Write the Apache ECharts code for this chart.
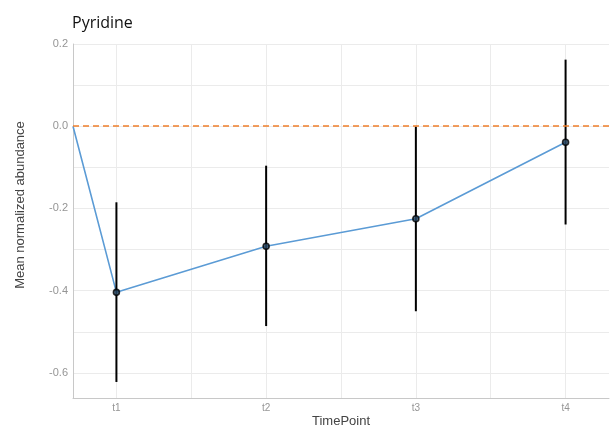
<!DOCTYPE html>
<html>
<head>
<meta charset="utf-8">
<script src="https://cdn.jsdelivr.net/npm/echarts@6/dist/echarts.min.js"></script>
<style>
  html, body { margin: 0; padding: 0; background: #fff; }
  #chart { width: 613px; height: 427px; }
</style>
</head>
<body>
<div id="chart"></div>
<script>
// Time points and summary statistics
const timeLabels = ['t1', 't2', 't3', 't4'];
const timeIndex = [1, 2, 3, 4];
const meanValues = [-0.404, -0.292, -0.225, -0.039];
const upperValues = [-0.185, -0.096, -0.001, 0.162];
const lowerValues = [-0.622, -0.486, -0.450, -0.239];
const baselineValue = 0;

// Axis ranges and tick positions
const xMin = 0.71, xMax = 4.29;
const yMin = -0.661, yMax = 0.2;
const yLabelTicks = [-0.6, -0.4, -0.2, 0, 0.2];
const yGridTicks = [-0.6, -0.5, -0.4, -0.3, -0.2, -0.1, 0, 0.1, 0.2];
const xGridTicks = [1, 1.5, 2, 2.5, 3, 3.5, 4];

const chart = echarts.init(document.getElementById('chart'));

// Mean trajectory starts from the baseline at the left edge of the panel
const lineData = [[xMin, baselineValue]].concat(timeIndex.map((x, i) => [x, meanValues[i]]));
const pointData = timeIndex.map((x, i) => [x, meanValues[i]]);
const barData = timeIndex.map((x, i) => [x, lowerValues[i], upperValues[i]]);

const gridColor = '#ebebeb';
const labelColor = '#959595';
const nameColor = '#444';

chart.setOption({
  animation: false,
  backgroundColor: '#fff',
  title: {
    text: 'Pyridine',
    left: 67,
    top: 10,
    textStyle: { fontFamily: 'Open Sans', fontSize: 16, fontWeight: 'normal', color: '#111' }
  },
  grid: { left: 73, right: 4, top: 44, bottom: 29, outerBoundsMode: 'none', containLabel: false },
  xAxis: {
    type: 'value',
    min: xMin,
    max: xMax,
    name: 'TimePoint',
    nameLocation: 'middle',
    nameGap: 17,
    nameMoveOverlap: false,
    nameTextStyle: { fontFamily: 'Liberation Sans', fontSize: 13, color: nameColor },
    axisLine: { show: true, onZero: false, lineStyle: { color: '#c8c8c8', width: 1 } },
    axisTick: { show: false, customValues: xGridTicks },
    axisLabel: {
      customValues: timeIndex,
      formatter: v => timeLabels[timeIndex.indexOf(Math.round(v))] || '',
      color: labelColor, fontFamily: 'Liberation Sans', fontSize: 10, margin: 5
    },
    splitLine: { show: true, lineStyle: { color: gridColor, width: 1 } }
  },
  yAxis: {
    type: 'value',
    min: yMin,
    max: yMax,
    name: 'Mean normalized abundance',
    nameLocation: 'middle',
    nameGap: 46,
    nameTextStyle: {
      fontFamily: 'Liberation Sans', fontSize: 13, color: nameColor,
      padding: [0, 0, 0, 32]
    },
    axisLine: { show: true, lineStyle: { color: '#c8c8c8', width: 1 } },
    axisTick: { show: false, customValues: yGridTicks },
    axisLabel: {
      customValues: yLabelTicks,
      formatter: v => v.toFixed(1),
      color: labelColor, fontFamily: 'Liberation Sans', fontSize: 11, margin: 5
    },
    splitLine: { show: true, lineStyle: { color: gridColor, width: 1 } }
  },
  series: [
    {
      type: 'line',
      data: lineData,
      showSymbol: false,
      z: 2,
      lineStyle: { color: '#5b9bd5', width: 1.6 },
      markLine: {
        silent: true,
        symbol: 'none',
        label: { show: false },
        lineStyle: { color: '#f07f2a', type: [6, 4], width: 1.6 },
        data: [{ yAxis: baselineValue }]
      }
    },
    {
      type: 'custom',
      z: 3,
      data: barData,
      renderItem: (params, api) => {
        const x = api.value(0);
        const lo = api.coord([x, api.value(1)]);
        const hi = api.coord([x, api.value(2)]);
        return {
          type: 'line',
          shape: { x1: lo[0], y1: lo[1], x2: hi[0], y2: hi[1] },
          style: { stroke: '#000', lineWidth: 2 }
        };
      }
    },
    {
      type: 'scatter',
      z: 4,
      data: pointData,
      symbol: 'circle',
      symbolSize: 6,
      itemStyle: { color: '#2a4a66', borderColor: '#000', borderWidth: 1.6 }
    }
  ]
});
</script>
</body>
</html>
